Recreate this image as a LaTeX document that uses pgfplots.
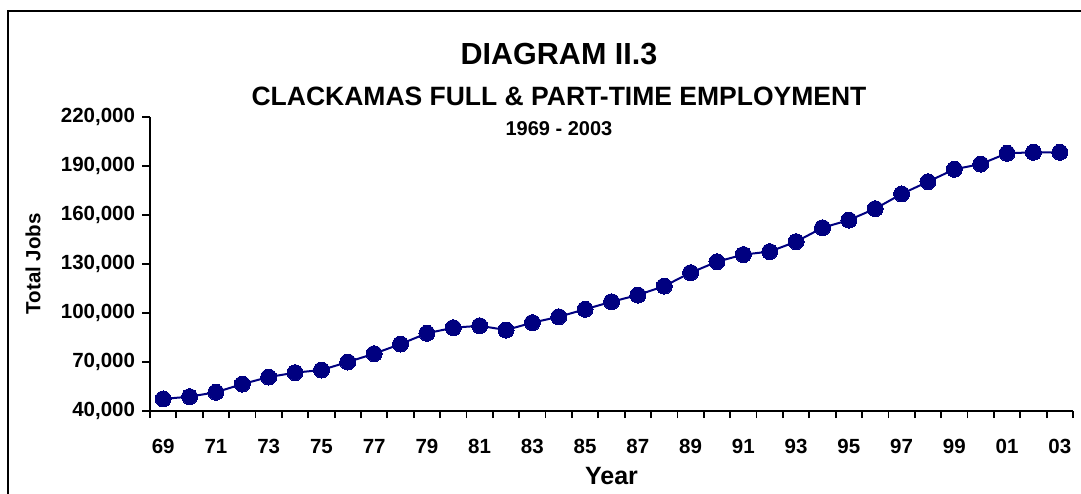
\documentclass[border=0pt]{standalone}
\usepackage{pgfplots}
\pgfplotsset{compat=1.18}
\usepackage{fontspec}
\setmainfont{Liberation Sans}
\definecolor{navy}{RGB}{0,0,128}
\begin{document}
\begin{tikzpicture}[x=1pt,y=1pt]
\path[use as bounding box] (0,0) rectangle (1081,493);
\draw[line width=2pt] (8,-5) -- (8,482) -- (1090,482);
\node[font=\bfseries\fontsize{30.5}{36}\selectfont, anchor=base, inner sep=0pt] at (559,428.5) {DIAGRAM II.3};
\node[font=\bfseries\fontsize{26.5}{32}\selectfont, anchor=base, inner sep=0pt] at (559,387) {CLACKAMAS FULL \& PART-TIME EMPLOYMENT};
\node[font=\bfseries\fontsize{20}{24}\selectfont, anchor=base, inner sep=0pt] at (559,357) {1969 - 2003};
\begin{axis}[
  at={(150pt,82.3pt)}, anchor=south west,
  scale only axis, width=923pt, height=294pt,
  xmin=-0.5, xmax=34.5, ymin=40000, ymax=220000,
  axis lines*=left,
  axis line style={line width=2pt, black},
  tick style={line width=1.8pt, black},
  tick align=outside, major tick length=7.5pt,
  xtick={-0.5,0.5,...,34.5}, xticklabels={},
  extra x ticks={0,2,...,34},
  extra x tick labels={69,71,73,75,77,79,81,83,85,87,89,91,93,95,97,99,01,03},
  extra x tick style={major tick length=0pt, xticklabel style={font=\bfseries\fontsize{20.5}{24}\selectfont, anchor=base, yshift=-42.5pt}},
  ytick={40000,70000,100000,130000,160000,190000,220000},
  scaled y ticks=false,
  /pgf/number format/assume math mode=true,
  yticklabel style={font=\bfseries\fontsize{20.5}{24}\selectfont, xshift=-4pt, /pgf/number format/.cd, fixed, 1000 sep={,}},
  ylabel={Total Jobs},
  ylabel style={font=\bfseries\fontsize{20.5}{24}\selectfont, at={(axis description cs:-0.1268,0.5)}, anchor=center, rotate=0},
  xlabel={Year},
  xlabel style={font=\bfseries\fontsize{25}{30}\selectfont, at={(axis description cs:0.5,-0.2527)}, anchor=base},
]
\addplot[navy, line width=2pt, mark=*, mark size=8pt, mark options={fill=navy, draw=navy, line width=0pt}] coordinates {
(0,47200) (1,48600) (2,51300) (3,56300) (4,60600) (5,63300) (6,64900)
(7,69800) (8,74900) (9,80800) (10,87400) (11,90800) (12,92000) (13,89400)
(14,93900) (15,97500) (16,102100) (17,106700) (18,110800) (19,116300)
(20,124500) (21,131200) (22,135600) (23,137400) (24,143500) (25,152000)
(26,156700) (27,163700) (28,172700) (29,180200) (30,187800) (31,191000)
(32,197600) (33,198200) (34,198200)
};
\end{axis}
\end{tikzpicture}
\end{document}
